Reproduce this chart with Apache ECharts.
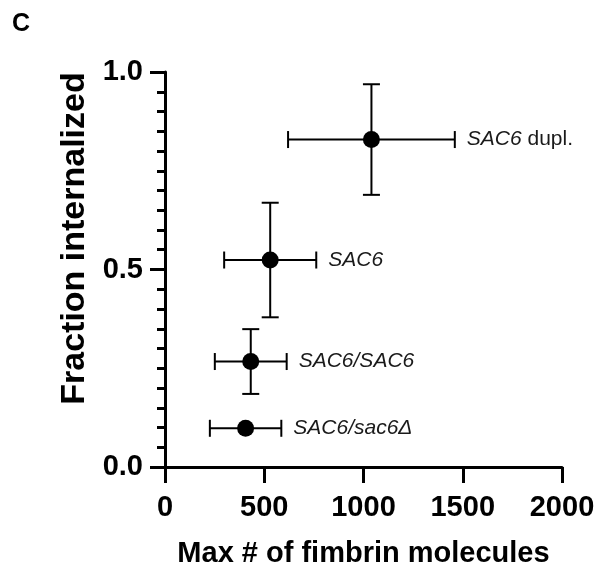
<!DOCTYPE html>
<html>
<head>
<meta charset="utf-8">
<script src="https://cdn.jsdelivr.net/npm/echarts@6/dist/echarts.min.js"></script>
<style>
html, body { margin: 0; padding: 0; background: #fff; }
#chart { width: 600px; height: 567px; }
</style>
</head>
<body>
<div id="chart"></div>
<script>
// strains: italic part of the label + plain suffix
var labelItalic = ['SAC6', 'SAC6', 'SAC6/SAC6', 'SAC6/sac6\u0394'];
var labelPlain = [' dupl.', '', '', ''];
var fimbrinMax = [1040, 530, 432, 406];
var fimbrinSd = [420, 232, 181, 180];
var fracInternalized = [0.829, 0.524, 0.267, 0.098];
var fracSd = [0.14, 0.145, 0.082, 0];

var FONT = 'Liberation Sans, Arial, Helvetica, sans-serif';

var chart = echarts.init(document.getElementById('chart'));

var rows = fimbrinMax.map(function (x, i) {
    return [x, fracInternalized[i], fimbrinSd[i], fracSd[i]];
});

function renderBars(params, api) {
    var i = params.dataIndex;
    var x = api.value(0), y = api.value(1), xe = api.value(2), ye = api.value(3);
    var c = api.coord([x, y]);
    var l = api.coord([x - xe, y]);
    var r = api.coord([x + xe, y]);
    var cap = 8.5;
    var st = { stroke: '#000', lineWidth: 2 };
    var kids = [
        { type: 'line', shape: { x1: l[0], y1: c[1], x2: r[0], y2: c[1] }, style: st },
        { type: 'line', shape: { x1: l[0], y1: c[1] - cap, x2: l[0], y2: c[1] + cap }, style: st },
        { type: 'line', shape: { x1: r[0], y1: c[1] - cap, x2: r[0], y2: c[1] + cap }, style: st }
    ];
    if (ye > 0) {
        var t = api.coord([x, y + ye]);
        var b = api.coord([x, y - ye]);
        kids.push(
            { type: 'line', shape: { x1: c[0], y1: t[1], x2: c[0], y2: b[1] }, style: st },
            { type: 'line', shape: { x1: c[0] - cap, y1: t[1], x2: c[0] + cap, y2: t[1] }, style: st },
            { type: 'line', shape: { x1: c[0] - cap, y1: b[1], x2: c[0] + cap, y2: b[1] }, style: st }
        );
    }
    kids.push({
        type: 'text',
        x: r[0] + 12,
        y: c[1],
        style: {
            text: '{i|' + labelItalic[i] + '}' + labelPlain[i],
            fill: '#1a1a1a',
            fontSize: 21,
            fontFamily: FONT,
            align: 'left',
            verticalAlign: 'middle',
            rich: {
                i: { fontStyle: 'italic', fontSize: 21, fontFamily: FONT, fill: '#1a1a1a' }
            }
        }
    });
    return { type: 'group', children: kids };
}

option = {
    animation: false,
    backgroundColor: '#fff',
    grid: { left: 165, right: 38, top: 72, bottom: 100, outerBoundsMode: 'none' },
    graphic: [{
        type: 'text', left: 12, top: 12,
        style: { text: 'C', fontSize: 25, fontWeight: 'bold', fontFamily: FONT, fill: '#000' }
    }],
    xAxis: {
        type: 'value',
        min: 0, max: 2000, interval: 500,
        name: 'Max # of fimbrin molecules',
        nameLocation: 'middle',
        nameGap: 72,
        nameTextStyle: { fontSize: 29, fontWeight: 'bold', fontFamily: FONT, color: '#000' },
        axisLine: { show: true, lineStyle: { color: '#000', width: 3 } },
        axisTick: { show: true, length: 16, lineStyle: { color: '#000', width: 3 } },
        axisLabel: {
            fontSize: 29, fontWeight: 'bold', fontFamily: FONT, color: '#000', margin: 26,
            formatter: function (v) { return String(v); }
        },
        splitLine: { show: false }
    },
    yAxis: {
        type: 'value',
        min: 0, max: 1, interval: 0.5,
        name: 'Fraction internalized',
        nameLocation: 'middle',
        nameGap: 70,
        nameTextStyle: { fontSize: 34, fontWeight: 'bold', fontFamily: FONT, color: '#000', padding: [0, 0, 0, 62] },
        axisLine: { show: true, lineStyle: { color: '#000', width: 3 } },
        axisTick: { show: true, length: 15, lineStyle: { color: '#000', width: 3 } },
        minorTick: { show: true, splitNumber: 10, length: 8, lineStyle: { color: '#000', width: 3 } },
        axisLabel: {
            fontSize: 29, fontWeight: 'bold', fontFamily: FONT, color: '#000', margin: 22,
            formatter: function (v) { return v.toFixed(1); }
        },
        splitLine: { show: false }
    },
    series: [{
        type: 'custom',
        renderItem: renderBars,
        data: rows,
        z: 2
    }, {
        type: 'scatter',
        data: rows.map(function (r) { return [r[0], r[1]]; }),
        symbol: 'circle',
        symbolSize: 17,
        itemStyle: { color: '#000', opacity: 1 },
        z: 3
    }]
};
chart.setOption(option);
</script>
</body>
</html>
